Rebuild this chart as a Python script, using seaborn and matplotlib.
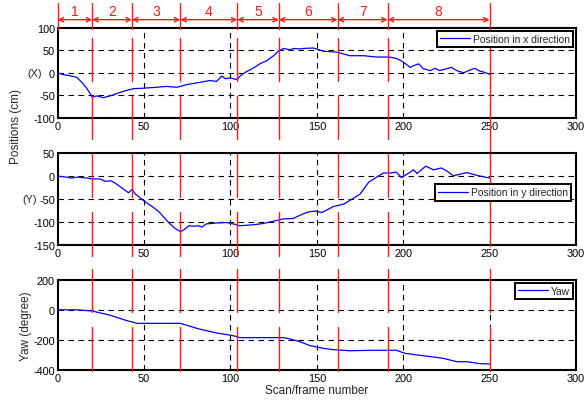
import numpy as np
import pandas as pd
import matplotlib
matplotlib.use("Agg")
import matplotlib.pyplot as plt
import matplotlib.transforms as mtransforms
import seaborn as sns

# ---------------- data ----------------
frames_x = [0, 3.3, 8, 11, 14, 17, 20, 22.6, 26.4, 30.3, 34, 38, 43.8, 49.6, 57, 63, 69, 74.7,
            82.4, 88, 92, 95, 97, 100, 101.6, 104, 105.5, 109.4, 113, 117, 121, 125, 128,
            130.7, 134.6, 136.5, 140.4, 142, 148, 153.8, 161.5, 169, 177, 184.6, 192, 196,
            200, 204, 206, 209, 211.7, 215.6, 218.5, 221, 225, 228, 231, 235, 239, 241.6,
            243.5, 245.5, 250]
pos_x = [0, -4, -7, -10, -21, -35, -54, -51, -55, -51, -46, -41, -35, -34, -32, -30, -32, -26,
         -21, -17, -19, -7, -13, -11, -13, -15, -7, 3, 10, 20, 27, 38, 49,
         54, 51, 54, 53, 54, 55, 48, 46, 38, 38, 35, 35, 32,
         24, 12, 16, 20, 9, 5, 10, 5, 9, 12, 5, 0, 7, 10,
         5, 3, -3]

frames_y = [0, 3.3, 8, 11, 17, 20, 24.5, 27.4, 31, 34, 38, 41, 43, 45, 49.6, 55.4, 59, 62, 65,
            68, 71, 73, 76, 78.6, 81.5, 83.5, 86, 92, 98, 101.6, 105.5, 113, 119, 125, 130.7,
            136.5, 140.3, 145, 149, 153, 159.6, 165.4, 169, 175, 180, 184.6, 188.5, 192, 196,
            199, 202, 206, 208, 213, 217.5, 222, 225, 229, 237, 242.5, 250]
pos_y = [0, -1, -4, -2, -4, -6, -6, -11, -10, -17, -28, -36, -29, -39, -53, -68, -79, -92, -104,
         -114, -121, -117, -108, -109, -108, -111, -104, -102, -101, -104, -108, -106, -103, -98, -93,
         -92, -85, -78, -76, -79, -66, -61, -53, -39, -13, -2, 7, 7, 9,
         -3, 4, 14, 6, 22, 14, 18, 12, 1, 8, 2, -4]

frames_yaw = [0, 11, 20, 30, 40, 46, 71, 82, 92, 101.6, 105.5, 130.7, 134.6, 140.3, 146, 153.8,
              159.6, 169, 182.7, 196, 201, 208, 215.6, 223, 231, 237, 244.5, 250]
yaw = [0, 0, -8, -35, -72, -90, -90, -128, -154, -172, -185, -185, -194, -212, -238, -256,
       -265, -272, -269, -269, -289, -300, -311, -322, -345, -345, -358, -360]

boundaries = [0, 20, 43, 71, 104, 128, 162, 191, 250]
segment_labels = ["1", "2", "3", "4", "5", "6", "7", "8"]

xticks = [0, 50, 100, 150, 200, 250, 300]
yticks_x = [-100, -50, 0, 50, 100]
yticks_y = [-150, -100, -50, 0, 50]
yticks_yaw = [-400, -200, 0, 200]

# ---------------- style ----------------
sns.set_theme(style="white")
plt.rcParams['font.family'] = ['Liberation Sans', 'DejaVu Sans']
plt.rcParams['axes.unicode_minus'] = False

fig = plt.figure(figsize=(5.84, 4.02), dpi=100)
W, H = 584, 402
L, R = 57.7, 576.0


def add_ax(top, bottom):
    return fig.add_axes([L / W, 1 - bottom / H, (R - L) / W, (bottom - top) / H])


ax1 = add_ax(28.7, 119.0)
ax2 = add_ax(154.3, 246.0)
ax3 = add_ax(280.7, 371.0)

df_x = pd.DataFrame({"frame": frames_x, "val": pos_x})
df_y = pd.DataFrame({"frame": frames_y, "val": pos_y})
df_yaw = pd.DataFrame({"frame": frames_yaw, "val": yaw})

specs = [
    (ax1, df_x, "Position in x direction", (-100, 100), yticks_x),
    (ax2, df_y, "Position in y direction", (-150, 50), yticks_y),
    (ax3, df_yaw, "Yaw", (-400, 200), yticks_yaw),
]

for ax, df, lab, ylim, yt in specs:
    sns.lineplot(data=df, x="frame", y="val", ax=ax, color="#0000ff", linewidth=0.9,
                 label=lab, zorder=3)
    ax.set_xlim(0, 300)
    ax.set_ylim(*ylim)
    ax.set_xticks(xticks)
    ax.set_yticks(yt)
    ax.set_xlabel("")
    ax.set_ylabel("")
    ax.tick_params(axis="both", direction="in", length=3, width=0.8, labelsize=7.8,
                   pad=2, colors="black")
    for s in ax.spines.values():
        s.set_visible(True)
        s.set_color("black")
        s.set_linewidth(1.5)
    # dashed grid at interior ticks
    for xv in xticks[1:-1]:
        ax.axvline(xv, color="black", lw=0.8, dashes=(5, 4), zorder=1)
    for yv in yt[1:-1]:
        ax.axhline(yv, color="black", lw=0.8, dashes=(5, 4), zorder=1)

ax3.set_xlabel("Scan/frame number", fontsize=8.5, labelpad=1)
ax3.set_ylabel("Yaw (degree)", fontsize=8.5, labelpad=1)
fig.text(16 / W, 1 - 126 / H, "Positions (cm)", rotation=90, ha="center", va="center",
         fontsize=8.5)

# (X) / (Y) labels
ax1.text(-0.030, 0, "(X)", transform=mtransforms.blended_transform_factory(ax1.transAxes, ax1.transData),
         ha="right", va="center", fontsize=7.8)
ax2.text(-0.040, -50, "(Y)", transform=mtransforms.blended_transform_factory(ax2.transAxes, ax2.transData),
         ha="right", va="center", fontsize=7.8)

# legends
leg_kw = dict(fontsize=7.4, frameon=True, fancybox=False, framealpha=1, handlelength=2.9,
              handletextpad=0.3, borderpad=0.3, borderaxespad=0.3)
for ax, loc, anchor in [(ax1, "upper right", (1.0, 1.0)),
                        (ax2, "center right", (0.997, 0.573)),
                        (ax3, "upper right", (1.0, 1.0))]:
    lg = ax.legend(loc=loc, bbox_to_anchor=anchor, **leg_kw)
    lg.get_frame().set_edgecolor("black")
    lg.get_frame().set_linewidth(1.4)
    lg.set_zorder(5)

# red segment boundaries
red = "#ff1a1a"


def vseg(ax, xv, y0, y1):
    tr = mtransforms.blended_transform_factory(ax.transData, ax.transAxes)
    ax.plot([xv, xv], [y0, y1], color=red, lw=1.0, transform=tr, clip_on=False, zorder=4)


for xv in boundaries:
    if xv == 0:
        vseg(ax1, xv, 1.2735, 0.975)
    elif xv == 250:
        vseg(ax1, xv, 1.2735, -0.40)
        vseg(ax2, xv, 1.0, -0.011)
        vseg(ax3, xv, 1.118, 0.642)
        vseg(ax3, xv, 0.476, -0.011)
    else:
        vseg(ax1, xv, 1.2735, 0.9856)
        vseg(ax1, xv, 0.886, 0.41)
        vseg(ax1, xv, 0.244, -0.2325)
        vseg(ax2, xv, 0.992, 0.523)
        vseg(ax2, xv, 0.36, -0.12)
        vseg(ax3, xv, 1.118, 0.642)
        vseg(ax3, xv, 0.476, -0.011)

# arrows + labels
tr1 = mtransforms.blended_transform_factory(ax1.transData, ax1.transAxes)
for i, lab in enumerate(segment_labels):
    a, b = boundaries[i], boundaries[i + 1]
    ax1.annotate("", xy=(a, 1.0886), xytext=(b, 1.0886), xycoords=tr1, textcoords=tr1,
                 arrowprops=dict(arrowstyle="<->", color=red, lw=1.0, shrinkA=0, shrinkB=0,
                                 mutation_scale=8), annotation_clip=False)
    ax1.text((a + b) / 2, 1.185, lab, transform=tr1, ha="center", va="center",
             color=red, fontsize=10)

fig.savefig("out.png", dpi=100)
